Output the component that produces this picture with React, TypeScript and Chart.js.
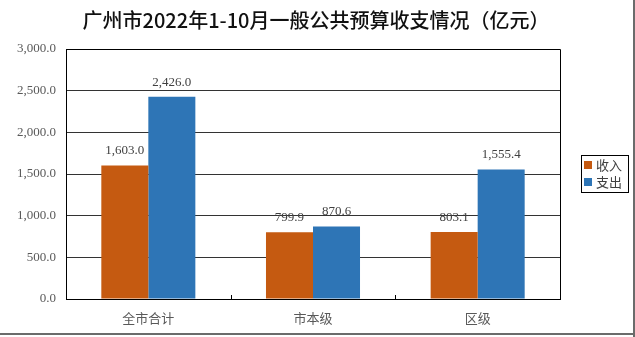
import React, { useEffect, useRef } from "react";
import { Chart, registerables } from "chart.js";

Chart.register(...registerables);

const TITLE = "广州市2022年1-10月一般公共预算收支情况（亿元）";
const categories = ["全市合计", "市本级", "区级"];
const seriesNames = ["收入", "支出"];
const incomeValues = [1603.0, 799.9, 803.1];
const expenseValues = [2426.0, 870.6, 1555.4];
const seriesColors = ["#C55A11", "#2E75B6"];
const yMin = 0;
const yMax = 3000;
const yStep = 500;

const fmt = (v: number) =>
  v.toLocaleString("en-US", { minimumFractionDigits: 1, maximumFractionDigits: 1 });

const LABEL_FONT = '"Liberation Serif", "DejaVu Serif", serif';
const CJK_FONT = '"Noto Sans CJK SC", "Noto Sans", sans-serif';

const decorPlugin = {
  id: "decor",
  afterDatasetsDraw(chart: any) {
    const ctx = chart.ctx;
    ctx.save();
    ctx.font = `13px ${LABEL_FONT}`;
    ctx.fillStyle = "#404040";
    ctx.textAlign = "center";
    ctx.textBaseline = "alphabetic";
    chart.data.datasets.forEach((ds: any, di: number) => {
      const meta = chart.getDatasetMeta(di);
      meta.data.forEach((el: any, i: number) => {
        ctx.fillText(fmt(ds.data[i]), el.x, el.y - 11);
      });
    });
    ctx.restore();
  },
  afterDraw(chart: any) {
    const ctx = chart.ctx;
    const a = chart.chartArea;
    ctx.save();
    ctx.strokeStyle = "#000";
    ctx.lineWidth = 1;
    ctx.beginPath();
    ctx.moveTo(Math.round(a.left) + 0.5, Math.round(a.top) + 0.5);
    ctx.lineTo(Math.round(a.right) + 0.5, Math.round(a.top) + 0.5);
    ctx.lineTo(Math.round(a.right) + 0.5, Math.round(a.bottom) + 0.5);
    ctx.stroke();
    const xs = chart.scales.x;
    ctx.beginPath();
    for (let i = 0; i < categories.length - 1; i++) {
      const bx = Math.round((xs.getPixelForValue(i) + xs.getPixelForValue(i + 1)) / 2) + 0.5;
      ctx.moveTo(bx, a.bottom);
      ctx.lineTo(bx, a.bottom - 4);
    }
    ctx.stroke();

    ctx.fillStyle = "#111";
    ctx.font = `500 20px ${CJK_FONT}`;
    ctx.textAlign = "center";
    ctx.textBaseline = "middle";
    ctx.fillText(TITLE, 316, 20);

    const lx = 581, ly = 155, lw = 47, lh = 37;
    ctx.strokeStyle = "#000";
    ctx.strokeRect(lx + 0.5, ly + 0.5, lw, lh);
    ctx.font = `13px ${CJK_FONT}`;
    ctx.textAlign = "left";
    ctx.textBaseline = "middle";
    chart.data.datasets.forEach((ds: any, i: number) => {
      const cy = ly + 10 + i * 17;
      ctx.fillStyle = ds.backgroundColor;
      ctx.fillRect(lx + 3, cy - 4, 8, 8);
      ctx.fillStyle = "#404040";
      ctx.fillText(ds.label, lx + 15, cy);
    });

    ctx.fillStyle = "#6b6b6b";
    ctx.fillRect(633, 0, 2, 337);
    ctx.fillRect(0, 333, 635, 2);
    ctx.restore();
  },
};

export default function App() {
  const ref = useRef<HTMLCanvasElement | null>(null);
  useEffect(() => {
    if (!ref.current) return;
    const chart = new Chart(ref.current, {
      type: "bar",
      data: {
        labels: categories,
        datasets: [
          {
            label: seriesNames[0],
            data: incomeValues,
            backgroundColor: seriesColors[0],
            categoryPercentage: 0.571,
            barPercentage: 1,
          },
          {
            label: seriesNames[1],
            data: expenseValues,
            backgroundColor: seriesColors[1],
            categoryPercentage: 0.571,
            barPercentage: 1,
          },
        ],
      },
      options: {
        animation: false,
        responsive: false,
        devicePixelRatio: 1,
        layout: { padding: { top: 49, right: 75, bottom: 0, left: 0 } },
        plugins: {
          legend: { display: false },
          title: { display: false },
          tooltip: { enabled: false },
        },
        scales: {
          x: {
            grid: { display: false },
            border: { display: true, color: "#000", width: 1 },
            ticks: {
              color: "#595959",
              font: { family: CJK_FONT, size: 13 },
              padding: 3,
            },
            afterFit: (s: any) => {
              s.height = 38;
            },
          },
          y: {
            min: yMin,
            max: yMax,
            grid: { color: "#333", drawTicks: false, lineWidth: 1 },
            border: { display: true, color: "#000", width: 1 },
            ticks: {
              stepSize: yStep,
              color: "#595959",
              font: { family: LABEL_FONT, size: 13 },
              padding: 10,
              callback: (v: any) => fmt(Number(v)),
            },
            afterFit: (s: any) => {
              s.width = 66;
            },
          },
        },
      },
      plugins: [decorPlugin],
    });
    return () => chart.destroy();
  }, []);
  return (
    <div style={{ position: "fixed", left: 0, top: 0, width: 635, height: 337, background: "#fff" }}>
      <canvas ref={ref} width={635} height={337} style={{ display: "block" }} />
    </div>
  );
}
